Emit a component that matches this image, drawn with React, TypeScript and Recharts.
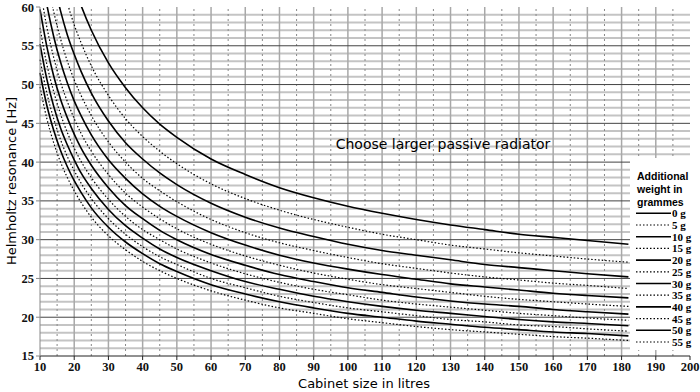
import { LineChart, Line, XAxis, YAxis, ReferenceLine } from "recharts";

// cabinet volume (litres) where the curves were read
const volumes = [10, 12, 14, 16, 18, 20, 22, 25, 30, 35, 40, 45, 50, 60, 70, 80, 90, 100, 110, 120, 130, 140, 150, 160, 170, 182];

// Helmholtz resonance (Hz) per added weight, null = off the top of the chart
const g0 = [null, null, null, null, null, 62.7, 60.2, 57.0, 52.8, 49.6, 47.0, 44.9, 43.2, 40.4, 38.4, 36.7, 35.4, 34.3, 33.4, 32.6, 31.9, 31.3, 30.7, 30.3, 29.9, 29.4];
const g5 = [null, null, null, 63.8, 60.5, 57.7, 55.4, 52.4, 48.6, 45.6, 43.3, 41.4, 39.8, 37.2, 35.3, 33.8, 32.6, 31.6, 30.7, 30.0, 29.3, 28.8, 28.3, 27.9, 27.5, 27.1];
const g10 = [null, null, 63.2, 59.5, 56.4, 53.9, 51.7, 48.9, 45.3, 42.5, 40.4, 38.6, 37.1, 34.7, 32.9, 31.5, 30.4, 29.4, 28.6, 28.0, 27.4, 26.8, 26.4, 26.0, 25.6, 25.2];
const g15 = [null, 63.7, 59.4, 55.9, 53.0, 50.6, 48.6, 46.0, 42.6, 40.0, 37.9, 36.3, 34.9, 32.6, 30.9, 29.6, 28.6, 27.7, 26.9, 26.3, 25.7, 25.2, 24.8, 24.4, 24.1, 23.7];
const g20 = [65.6, 60.3, 56.2, 52.9, 50.2, 47.9, 46.0, 43.5, 40.3, 37.9, 35.9, 34.3, 33.0, 30.9, 29.3, 28.0, 27.0, 26.2, 25.5, 24.9, 24.3, 23.9, 23.5, 23.1, 22.8, 22.5];
const g25 = [62.5, 57.4, 53.5, 50.3, 47.8, 45.6, 43.7, 41.4, 38.4, 36.0, 34.2, 32.7, 31.4, 29.4, 27.9, 26.7, 25.7, 24.9, 24.2, 23.7, 23.2, 22.7, 22.3, 22.0, 21.7, 21.4];
const g30 = [59.7, 54.9, 51.1, 48.1, 45.7, 43.6, 41.8, 39.6, 36.7, 34.4, 32.7, 31.2, 30.0, 28.1, 26.7, 25.5, 24.6, 23.8, 23.2, 22.6, 22.1, 21.7, 21.4, 21.0, 20.7, 20.4];
const g35 = [57.3, 52.6, 49.1, 46.2, 43.8, 41.8, 40.1, 38.0, 35.2, 33.0, 31.3, 30.0, 28.8, 27.0, 25.6, 24.5, 23.6, 22.9, 22.2, 21.7, 21.3, 20.9, 20.5, 20.2, 19.9, 19.6];
const g40 = [55.2, 50.7, 47.2, 44.4, 42.2, 40.3, 38.6, 36.6, 33.9, 31.8, 30.2, 28.8, 27.7, 26.0, 24.6, 23.6, 22.7, 22.0, 21.4, 20.9, 20.5, 20.1, 19.7, 19.4, 19.2, 18.9];
const g45 = [53.2, 48.9, 45.6, 42.9, 40.7, 38.9, 37.3, 35.3, 32.7, 30.7, 29.1, 27.8, 26.8, 25.0, 23.8, 22.7, 21.9, 21.2, 20.7, 20.2, 19.7, 19.4, 19.0, 18.8, 18.5, 18.2];
const g50 = [51.5, 47.3, 44.1, 41.5, 39.4, 37.6, 36.1, 34.1, 31.6, 29.7, 28.2, 26.9, 25.9, 24.2, 23.0, 22.0, 21.2, 20.5, 20.0, 19.5, 19.1, 18.7, 18.4, 18.1, 17.9, 17.6];
const g55 = [49.7, 45.6, 42.5, 40.0, 38.0, 36.3, 34.8, 32.9, 30.5, 28.7, 27.2, 26.0, 25.0, 23.4, 22.2, 21.2, 20.5, 19.8, 19.3, 18.8, 18.4, 18.1, 17.8, 17.5, 17.3, 17.0];

const weights = [0, 5, 10, 15, 20, 25, 30, 35, 40, 45, 50, 55];
const series = [g0, g5, g10, g15, g20, g25, g30, g35, g40, g45, g50, g55];

const xTicks = [10, 20, 30, 40, 50, 60, 70, 80, 90, 100, 110, 120, 130, 140, 150, 160, 170, 180, 190, 200];
const xHalf = [15, 25, 35, 45, 55, 65, 75, 85, 95, 105, 115, 125, 135, 145, 155, 165, 175, 185, 195];
const yTicks = [15, 20, 25, 30, 35, 40, 45, 50, 55, 60];
const yMinor = [16, 17, 18, 19, 21, 22, 23, 24, 26, 27, 28, 29, 31, 32, 33, 34, 36, 37, 38, 39, 41, 42, 43, 44, 46, 47, 48, 49, 51, 52, 53, 54, 56, 57, 58, 59];

const rows = volumes.map((v, i) => {
  const row: Record<string, number | null> = { v };
  weights.forEach((w, j) => (row["w" + w] = series[j][i]));
  return row;
});

const tickFont = { fontFamily: "Liberation Serif", fontSize: 12.5, fontWeight: "bold", fill: "#111" };

export default function App() {
  return (
    <div style={{ position: "absolute", left: 0, top: 0, width: 700, height: 392, background: "#fff" }}>
      <LineChart width={700} height={392} data={rows} margin={{ top: 7, right: 10, left: 10, bottom: 0 }}>
        {yMinor.map((y) => (
          <ReferenceLine key={"ym" + y} y={y} stroke="#c4c4c4" strokeWidth={2} />
        ))}
        {xTicks.slice(1, -1).map((x) => (
          <ReferenceLine key={"x" + x} x={x} stroke="#a8a8a8" strokeWidth={1.5} />
        ))}
        {xHalf.map((x) => (
          <ReferenceLine key={"xh" + x} x={x} stroke="#888" strokeWidth={1} strokeDasharray="2 3" />
        ))}
        {yTicks.slice(1, -1).map((y) => (
          <ReferenceLine key={"y" + y} y={y} stroke="#444" strokeWidth={1} />
        ))}
        <XAxis
          dataKey="v"
          type="number"
          domain={[10, 200]}
          ticks={xTicks}
          height={36}
          tick={tickFont}
          stroke="#222"
          tickSize={4}
        />
        <YAxis
          type="number"
          domain={[15, 60]}
          ticks={yTicks}
          allowDataOverflow
          width={30}
          tick={tickFont}
          stroke="#888"
          tickSize={4}
        />
        {weights.map((w, j) => (
          <Line
            key={w}
            dataKey={"w" + w}
            type="monotone"
            stroke="#000"
            strokeWidth={j % 2 === 0 ? 1.6 : 1.2}
            strokeDasharray={j % 2 === 0 ? undefined : "1.5 2"}
            dot={false}
            isAnimationActive={false}
          />
        ))}
      </LineChart>
      <svg width={700} height={392} style={{ position: "absolute", left: 0, top: 0, pointerEvents: "none" }}>
        <text x={443} y={144} textAnchor="middle" dominantBaseline="central" fontFamily="DejaVu Sans" fontSize={14} fill="#000">
          Choose larger passive radiator
        </text>
        <text x={364} y={383} textAnchor="middle" dominantBaseline="central" fontFamily="DejaVu Sans" fontSize={13} fill="#000">
          Cabinet size in litres
        </text>
        <text
          x={11}
          y={181}
          transform="rotate(-90 11 181)"
          textAnchor="middle"
          dominantBaseline="central"
          fontFamily="DejaVu Sans"
          fontSize={13}
          fill="#000"
        >
          Helmholtz resonance [Hz]
        </text>
        <rect x={630} y={158} width={70} height={192} fill="#fff" />
        {["Additional", "weight in", "grammes"].map((t, i) => (
          <text key={t} x={637} y={176 + i * 13} dominantBaseline="central" fontFamily="Liberation Sans" fontWeight="bold" fontSize={10.5} fill="#000">
            {t}
          </text>
        ))}
        {weights.map((w, j) => {
          const y = 213.3 + j * 11.7;
          return (
            <g key={w}>
              <line
                x1={636}
                x2={671}
                y1={y}
                y2={y}
                stroke="#000"
                strokeWidth={j % 2 === 0 ? 1.6 : 1.2}
                strokeDasharray={j % 2 === 0 ? undefined : "1.5 2"}
              />
              <text x={672} y={y} dominantBaseline="central" fontFamily="Liberation Serif" fontWeight="bold" fontSize={11} fill="#000">
                {w} g
              </text>
            </g>
          );
        })}
      </svg>
    </div>
  );
}
